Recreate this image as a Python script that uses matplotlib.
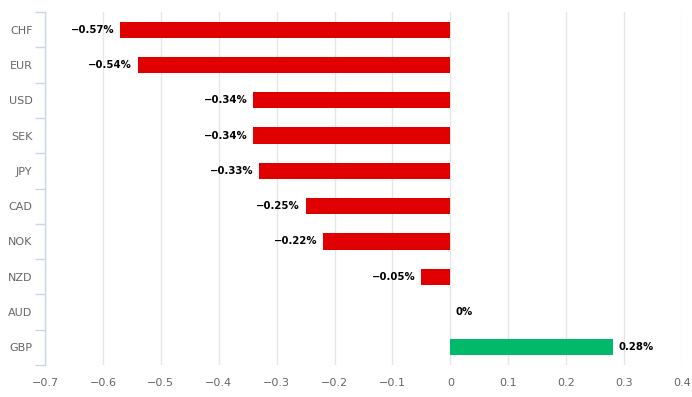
import numpy as np
import matplotlib
matplotlib.use("Agg")
import matplotlib.pyplot as plt
from matplotlib.ticker import FixedLocator

currencies = ["CHF", "EUR", "USD", "SEK", "JPY", "CAD", "NOK", "NZD", "AUD", "GBP"]
changes = [-0.57, -0.54, -0.34, -0.34, -0.33, -0.25, -0.22, -0.05, 0.0, 0.28]
xticks = [-0.7, -0.6, -0.5, -0.4, -0.3, -0.2, -0.1, 0, 0.1, 0.2, 0.3, 0.4]

RED = "#e00000"
GREEN = "#00b96b"
AXIS = "#ccd6eb"
GRID = "#e6e6e6"


def fmt(v):
    if v == 0:
        return "0%"
    s = "%.2f%%" % abs(v)
    return ("\u2212" + s) if v < 0 else s


fig = plt.figure(figsize=(6.92, 3.97), dpi=100)
ax = fig.add_axes([45 / 692, 1 - 365 / 397, (682 - 45) / 692, (365 - 12) / 397])

y = np.arange(len(currencies))
colors = [GREEN if v > 0 else RED for v in changes]
ax.barh(y, changes, height=0.46, color=colors, zorder=3)

for yi, v in zip(y, changes):
    if v < 0:
        ax.annotate(fmt(v), (v, yi), xytext=(-4, 0), textcoords="offset points",
                    ha="right", va="center", fontsize=7.3, fontweight="bold")
    else:
        ax.annotate(fmt(v), (v, yi), xytext=(4, 0), textcoords="offset points",
                    ha="left", va="center", fontsize=7.3, fontweight="bold")

ax.set_xlim(-0.7, 0.4)
ax.set_ylim(len(currencies) - 0.5, -0.5)

ax.set_xticks(xticks)
ax.set_xticklabels([("\u2212" + ("%g" % abs(t))) if t < 0 else "%g" % t for t in xticks])
ax.set_yticks(y)
ax.set_yticklabels(currencies)
ax.yaxis.set_minor_locator(FixedLocator(np.arange(-0.5, len(currencies), 1.0)))

ax.tick_params(axis="x", length=0, pad=9, labelsize=8, labelcolor="#666666")
ax.tick_params(axis="y", which="major", length=0, pad=9, labelsize=8, labelcolor="#666666")
ax.tick_params(axis="y", which="minor", length=7, width=1, color=AXIS)

ax.xaxis.grid(True, color=GRID, linewidth=1, zorder=0)
ax.set_axisbelow(True)

for side in ["top", "right", "bottom"]:
    ax.spines[side].set_visible(False)
ax.spines["left"].set_color(AXIS)
ax.spines["left"].set_linewidth(1)
ax.spines["left"].set_zorder(4)

fig.savefig("out.png", dpi=100)
plt.close()
